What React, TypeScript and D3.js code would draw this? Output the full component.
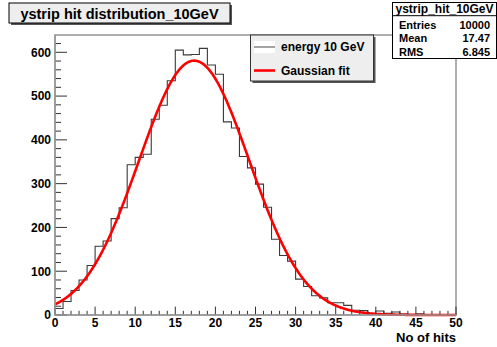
import React from "react";
import * as d3 from "d3";

// Bin contents (50 bins of width 1, from 0 to 50)
const binCounts = [
  15, 31, 56, 80, 113, 157, 169, 220, 245, 343,
  360, 367, 447, 479, 535, 605, 594, 595, 609, 571,
  550, 441, 427, 362, 336, 299, 246, 173, 136, 123,
  82, 65, 44, 39, 28, 28, 22, 11, 10, 3,
  9, 4, 7, 2, 1, 3, 1, 0, 0, 0,
];
const binEdges = d3.range(0, 51);
const xTicks = [0, 5, 10, 15, 20, 25, 30, 35, 40, 45, 50];
const yTicks = [0, 100, 200, 300, 400, 500, 600];
// Gaussian fit parameters
const fitConstant = 581;
const fitMean = 17.35;
const fitSigma = 6.88;
const statsRows = [
  ["Entries", "10000"],
  ["Mean", "17.47"],
  ["RMS", "6.845"],
];
const legendItems = ["energy 10 GeV", "Gaussian fit"];

const W = 497;
const H = 347;
const FL = 55, FR = 456, FT = 35, FB = 315;
const FONT = "'Liberation Sans', Arial, Helvetica, sans-serif";

export default function App() {
  const x = d3.scaleLinear().domain([0, 50]).range([FL, FR]);
  const y = d3.scaleLinear().domain([0, 639.5]).range([FB, FT]);

  let histPath = `M${x(0)},${y(0)}`;
  binCounts.forEach((v, i) => {
    histPath += `L${x(binEdges[i])},${y(v)}L${x(binEdges[i + 1])},${y(v)}`;
  });
  histPath += `L${x(50)},${y(0)}`;

  const fitPts = d3.range(0, 50.001, 0.1).map((t) => [
    t,
    fitConstant * Math.exp(-((t - fitMean) ** 2) / (2 * fitSigma * fitSigma)),
  ]);
  const fitLine = d3
    .line<number[]>()
    .x((d) => x(d[0]))
    .y((d) => y(d[1]))
    .curve(d3.curveLinear)(fitPts as any) as string;

  const xMinor = d3.range(0, 51, 1);
  const yMinor = d3.range(0, 640, 20);

  return (
    <svg width={W} height={H} style={{ display: "block", position: "absolute", left: 0, top: 0 }} fontFamily={FONT}>
      <rect x={0} y={0} width={W} height={H} fill="#ffffff" />
      {/* frame */}
      <rect x={FL} y={FT} width={FR - FL} height={FB - FT} fill="#fff" stroke="#9a9a9a" strokeWidth={1.6} />

      {/* histogram */}
      <path d={histPath} fill="none" stroke="#3a3a3a" strokeWidth={1.1} />
      {/* fit */}
      <path d={fitLine} fill="none" stroke="#ff0000" strokeWidth={2.6} />

      {/* x axis ticks */}
      {xMinor.map((t) => (
        <line key={"xm" + t} x1={x(t)} x2={x(t)} y1={FB} y2={FB - (t % 5 === 0 ? 8.4 : 4.2)} stroke="#333" strokeWidth={1} />
      ))}
      {yMinor.map((t) => (
        <line key={"ym" + t} x1={FL} x2={FL + (t % 100 === 0 ? 12 : 6)} y1={y(t)} y2={y(t)} stroke="#333" strokeWidth={1} />
      ))}
      <line x1={FL} x2={FR} y1={FB} y2={FB} stroke="#9a9a9a" strokeWidth={1.6} />
      <line x1={FL} x2={FL} y1={FT} y2={FB} stroke="#9a9a9a" strokeWidth={1.6} />

      {xTicks.map((t) => (
        <text key={"xl" + t} x={x(t)} y={327} textAnchor="middle" fontSize={12} fontWeight="bold" fill="#000">
          {t}
        </text>
      ))}
      {yTicks.map((t) => (
        <text key={"yl" + t} x={51} y={y(t) + 4.3} textAnchor="end" fontSize={12} fontWeight="bold" fill="#000">
          {t}
        </text>
      ))}
      <text x={FR} y={342} textAnchor="end" fontSize={13} fontWeight="bold" fill="#000">
        No of hits
      </text>

      {/* title box */}
      <rect x={11} y={5} width={221} height={20} fill="#555" />
      <rect x={9} y={3} width={221} height={20} fill="#eeeeee" stroke="#000" strokeWidth={1} />
      <text x={119.5} y={18.5} textAnchor="middle" fontSize={14.5} fontWeight="bold" fill="#000">
        ystrip hit distribution_10GeV
      </text>

      {/* legend */}
      <rect x={252.5} y={37} width={123} height={46} fill="#555" />
      <rect x={250.5} y={35} width={123} height={46} fill="#eeeeee" stroke="#333" strokeWidth={1} />
      <rect x={254} y={41} width={21} height={12} fill="#fff" />
      <line x1={254} x2={275} y1={47} y2={47} stroke="#666" strokeWidth={1.2} />
      <text x={281} y={51} fontSize={12} fontWeight="bold" fill="#000">{legendItems[0]}</text>
      <line x1={254} x2={275} y1={70.5} y2={70.5} stroke="#ff0000" strokeWidth={2.6} />
      <text x={281} y={75} fontSize={12} fontWeight="bold" fill="#000">{legendItems[1]}</text>

      {/* stats box */}
      <rect x={392.5} y={2.5} width={104} height={56} fill="#fff" stroke="#000" strokeWidth={1} />
      <line x1={392.5} x2={496.5} y1={15.7} y2={15.7} stroke="#000" strokeWidth={1} />
      <text x={444.5} y={13} textAnchor="middle" fontSize={12} fontWeight="bold" fill="#000">
        ystrip_hit_10GeV
      </text>
      {statsRows.map((r, i) => (
        <g key={r[0]}>
          <text x={399} y={28.5 + i * 13.5} fontSize={11} fontWeight="bold" fill="#000">{r[0]}</text>
          <text x={490} y={28.5 + i * 13.5} textAnchor="end" fontSize={11} fontWeight="bold" fill="#000">{r[1]}</text>
        </g>
      ))}
    </svg>
  );
}
